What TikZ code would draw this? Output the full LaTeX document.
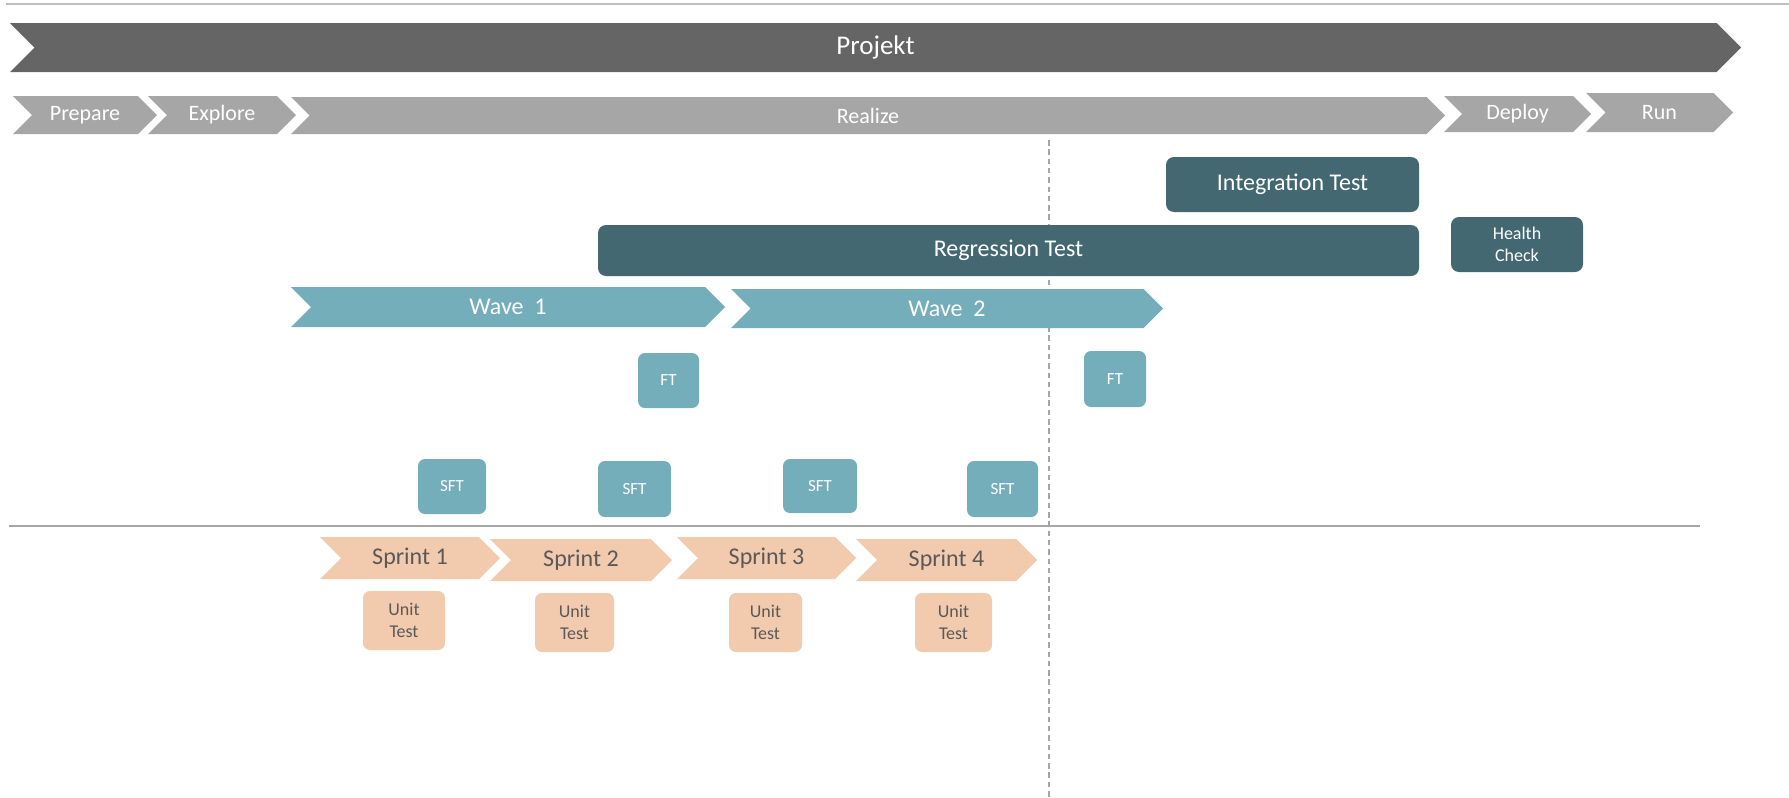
\documentclass[tikz,border=0pt]{standalone}
\usepackage{fontspec}
\setmainfont{Carlito}
\definecolor{projgray}{HTML}{656565}
\definecolor{phasegray}{HTML}{A6A6A6}
\definecolor{rulegray}{HTML}{BFBFBF}
\definecolor{tealdark}{HTML}{436872}
\definecolor{teallight}{HTML}{74AEBB}
\definecolor{peach}{HTML}{F2CAAE}
\definecolor{inkgray}{HTML}{595959}
\newcommand{\chevron}[7][]{\fill[#1] (#3,#5) -- ({#4-(#6-#5)/2},#5) -- (#4,{(#5+#6)/2}) -- ({#4-(#6-#5)/2},#6) -- (#3,#6) -- ({#3+(#6-#5)/2},{(#5+#6)/2}) -- cycle;\node[#1, fill=none, inner sep=0pt] (#2) at ({(#3+#4)/2},{(#5+#6)/2}) {#7};}
\newcommand{\testbox}[7][]{\node[rounded corners=4pt, inner sep=0pt, align=center, minimum width=(#5-#3)*0.5pt, minimum height=(#6-#4)*0.5pt, #1] (#2) at ({(#3+#5)/2},{(#4+#6)/2}) {#7};}
\tikzset{
  projbar/.style={fill=projgray, text=white, font=\fontsize{13.5}{16}\selectfont},
  phase/.style={fill=phasegray, text=white, font=\fontsize{11}{13}\selectfont},
  wave/.style={fill=teallight, text=white, font=\fontsize{12}{14}\selectfont},
  sprint/.style={fill=peach, text=inkgray, font=\fontsize{12}{14}\selectfont},
  bigtest/.style={fill=tealdark, text=white, font=\fontsize{12}{14}\selectfont},
  health/.style={fill=tealdark, text=white, font=\fontsize{9}{11}\selectfont},
  ftbox/.style={fill=teallight, text=white, rounded corners=3.5pt, font=\fontsize{8.5}{10}\selectfont},
  unitbox/.style={fill=peach, text=inkgray, rounded corners=3.5pt, font=\fontsize{9}{11}\selectfont},
  sepline/.style={draw=phasegray, line width=1pt},
  cutline/.style={draw=phasegray, line width=1pt, dash pattern=on 2.75pt off 1.9pt}
}
\begin{document}
\begin{tikzpicture}[x=0.5pt, y=-0.5pt]
\useasboundingbox (0,0) rectangle (1789,798);
\coordinate (topl) at (6,4);
\coordinate (topr) at (1789,4);
\coordinate (midl) at (9,526);
\coordinate (midr) at (1700,526);
\coordinate (cuttop) at (1049,140);
\coordinate (cutbot) at (1049,798);
\draw[sepline, draw=rulegray] (topl) -- (topr);
\draw[sepline] (midl) -- (midr);
\draw[cutline] (cuttop) -- (cutbot);
\chevron[projbar]{proj}{10}{1741}{23}{72}{Projekt}
\chevron[phase]{prep}{13}{157}{96}{134}{Prepare}
\chevron[phase]{expl}{148}{296}{96}{134}{Explore}
\chevron[phase]{real}{291}{1445}{97}{134}{Realize}
\chevron[phase]{depl}{1444}{1591}{96}{132}{Deploy}
\chevron[phase]{run}{1586}{1733}{93}{132}{Run}
\testbox[bigtest]{integ}{1166}{157}{1419}{212}{Integration Test}
\testbox[bigtest]{regr}{598}{225}{1419}{276}{Regression Test}
\testbox[health]{hc}{1451}{217}{1583}{272}{Health\\Check}
\chevron[wave]{wa}{291}{725}{287}{327}{Wave~ 1}
\chevron[wave]{wb}{731}{1163}{289}{328}{Wave~ 2}
\testbox[ftbox]{fta}{638}{353}{699}{408}{FT}
\testbox[ftbox]{ftb}{1084}{351}{1146}{407}{FT}
\testbox[ftbox]{sfta}{418}{459}{486}{514}{SFT}
\testbox[ftbox]{sftb}{598}{461}{671}{517}{SFT}
\testbox[ftbox]{sftc}{783}{459}{857}{513}{SFT}
\testbox[ftbox]{sftd}{967}{461}{1038}{517}{SFT}
\chevron[sprint]{spa}{320}{500}{537}{579}{Sprint 1}
\chevron[sprint]{spb}{490}{672}{539}{581}{Sprint 2}
\chevron[sprint]{spc}{677}{856}{537}{579}{Sprint 3}
\chevron[sprint]{spd}{856}{1037}{539}{581}{Sprint 4}
\testbox[unitbox]{uta}{363}{591}{445}{650}{Unit\\Test}
\testbox[unitbox]{utb}{535}{593}{614}{652}{Unit\\Test}
\testbox[unitbox]{utc}{729}{593}{802}{652}{Unit\\Test}
\testbox[unitbox]{utd}{915}{593}{992}{652}{Unit\\Test}
\end{tikzpicture}
\end{document}
